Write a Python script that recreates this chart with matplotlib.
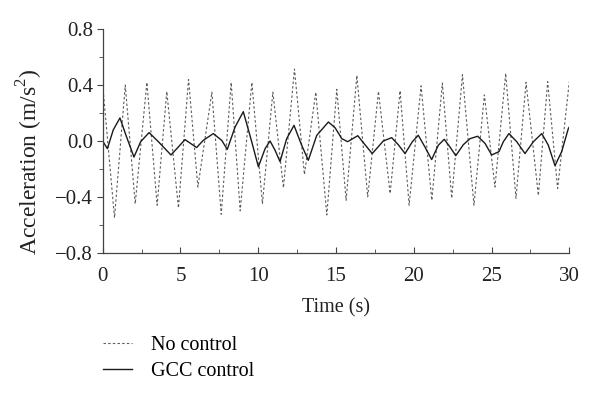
import matplotlib
matplotlib.use("Agg")
import matplotlib.pyplot as plt

# values
# "No control": peaks and troughs of the dashed trace
t_nc = [0.0, 0.76, 1.45, 2.09, 2.84, 3.50, 4.12, 4.87, 5.52, 6.12, 7.02, 7.62,
        8.26, 8.84, 9.59, 10.27, 10.94, 11.62, 12.33, 12.97, 13.70, 14.41,
        15.05, 15.65, 16.34, 17.04, 17.73, 18.48, 19.12, 19.70, 20.47, 21.16,
        21.84, 22.44, 23.13, 23.87, 24.54, 25.22, 25.91, 26.57, 27.22, 28.01,
        28.61, 29.25, 30.0]
a_nc = [0.40, -0.55, 0.40, -0.45, 0.42, -0.46, 0.355, -0.48, 0.44, -0.33, 0.35,
        -0.525, 0.42, -0.50, 0.42, -0.45, 0.35, -0.335, 0.515, -0.24, 0.35,
        -0.53, 0.37, -0.425, 0.47, -0.40, 0.355, -0.376, 0.36, -0.46, 0.395,
        -0.425, 0.415, -0.41, 0.475, -0.46, 0.33, -0.33, 0.485, -0.41, 0.42,
        -0.39, 0.425, -0.34, 0.425]

# "GCC control": points
t_gcc = [0.0, 0.30, 0.68, 1.11, 1.50, 2.01, 2.44, 2.98, 3.58, 4.39, 4.86,
         5.29, 6.04, 6.47, 7.11, 7.65, 8.01, 8.51, 9.04, 9.58, 10.01, 10.44,
         10.76, 11.08, 11.40, 11.83, 12.30, 12.79, 13.22, 13.76, 14.51, 14.94,
         15.37, 15.75, 16.40, 16.86, 17.33, 18.04, 18.58, 19.00, 19.44, 19.91,
         20.29, 20.72, 21.15, 21.58, 21.96, 22.33, 22.70, 23.19, 23.62, 24.11,
         24.58, 25.01, 25.48, 25.76, 26.12, 26.62, 27.15, 27.69, 28.23, 28.65,
         29.08, 29.51, 29.94, 30.0]
a_gcc = [0.0, -0.055, 0.08, 0.165, 0.04, -0.115, -0.005, 0.06, -0.005, -0.10,
         -0.043, 0.01, -0.047, 0.005, 0.053, 0.005, -0.06, 0.10, 0.21, -0.005,
         -0.185, -0.055, 0.0, -0.066, -0.148, 0.017, 0.112, -0.03, -0.138, 0.04,
         0.136, 0.095, 0.017, -0.005, 0.038, -0.026, -0.09, 0.0, 0.024, -0.026,
         -0.09, -0.005, 0.041, -0.043, -0.133, -0.03, 0.012, -0.043, -0.105,
         -0.026, 0.017, 0.034, -0.017, -0.10, -0.076, -0.005, 0.053, -0.005,
         -0.09, -0.005, 0.053, -0.03, -0.177, -0.076, 0.09, 0.10]

x_ticks = [0, 5, 10, 15, 20, 25, 30]
y_ticks = [-0.8, -0.4, 0.0, 0.4, 0.8]
y_tick_labels = ["\u22120.8", "\u22120.4", "0.0", "0.4", "0.8"]

plt.rcParams["font.family"] = ["Liberation Serif", "DejaVu Serif"]
plt.rcParams["mathtext.fontset"] = "custom"
plt.rcParams["mathtext.rm"] = "Liberation Serif"
plt.rcParams["font.size"] = 14.5

W, H = 600, 399
fig = plt.figure(figsize=(W / 100, H / 100), dpi=100)
ax = fig.add_axes([102.7 / W, 1 - 252.7 / H, (569.3 - 102.7) / W, (252.7 - 29.3) / H])

ax.plot(t_nc, a_nc, color="#5c5c5c", lw=0.8, linestyle=(0, (2.2, 2)),
        label="No control")
ax.plot(t_gcc, a_gcc, color="#1a1a1a", lw=1.0, label="GCC control",
        solid_joinstyle="round")

ax.set_xlim(0, 30)
ax.set_ylim(-0.8, 0.8)
ax.set_xticks(x_ticks)
ax.set_xticks([2.5 + 5 * i for i in range(6)], minor=True)
ax.set_yticks(y_ticks)
ax.set_yticklabels(y_tick_labels)
ax.set_yticks([-0.6, -0.2, 0.2, 0.6], minor=True)

for s in ["top", "right"]:
    ax.spines[s].set_visible(False)
for s in ["left", "bottom"]:
    ax.spines[s].set_color("#444444")
    ax.spines[s].set_linewidth(0.9)

ax.tick_params(axis="x", which="both", direction="in", color="#444444",
               labelcolor="#222222", pad=10, labelsize=15)
ax.tick_params(axis="x", which="major", length=4)
ax.tick_params(axis="x", which="minor", length=3)
ax.tick_params(axis="y", which="both", direction="out", color="#444444",
               labelcolor="#222222", pad=3, labelsize=15)
ax.tick_params(axis="y", which="major", length=4)
ax.tick_params(axis="y", which="minor", length=3)

ax.set_xlabel("Time (s)", color="#222222", labelpad=9, fontsize=14.5)
ax.set_ylabel(r"Acceleration (m/s$^{2}$)", color="#222222", fontsize=17)
ax.yaxis.set_label_coords(-(102.7 - 45) / (569.3 - 102.7), 1 - (162 - 29.3) / (252.7 - 29.3))

fig.legend(loc="center left", bbox_to_anchor=(103 / W, 1 - 358.5 / H),
           frameon=False, handlelength=1.45, handletextpad=0.95,
           labelspacing=0.35, borderpad=0, borderaxespad=0, fontsize=14.5)

fig.savefig("out.png", dpi=100)
